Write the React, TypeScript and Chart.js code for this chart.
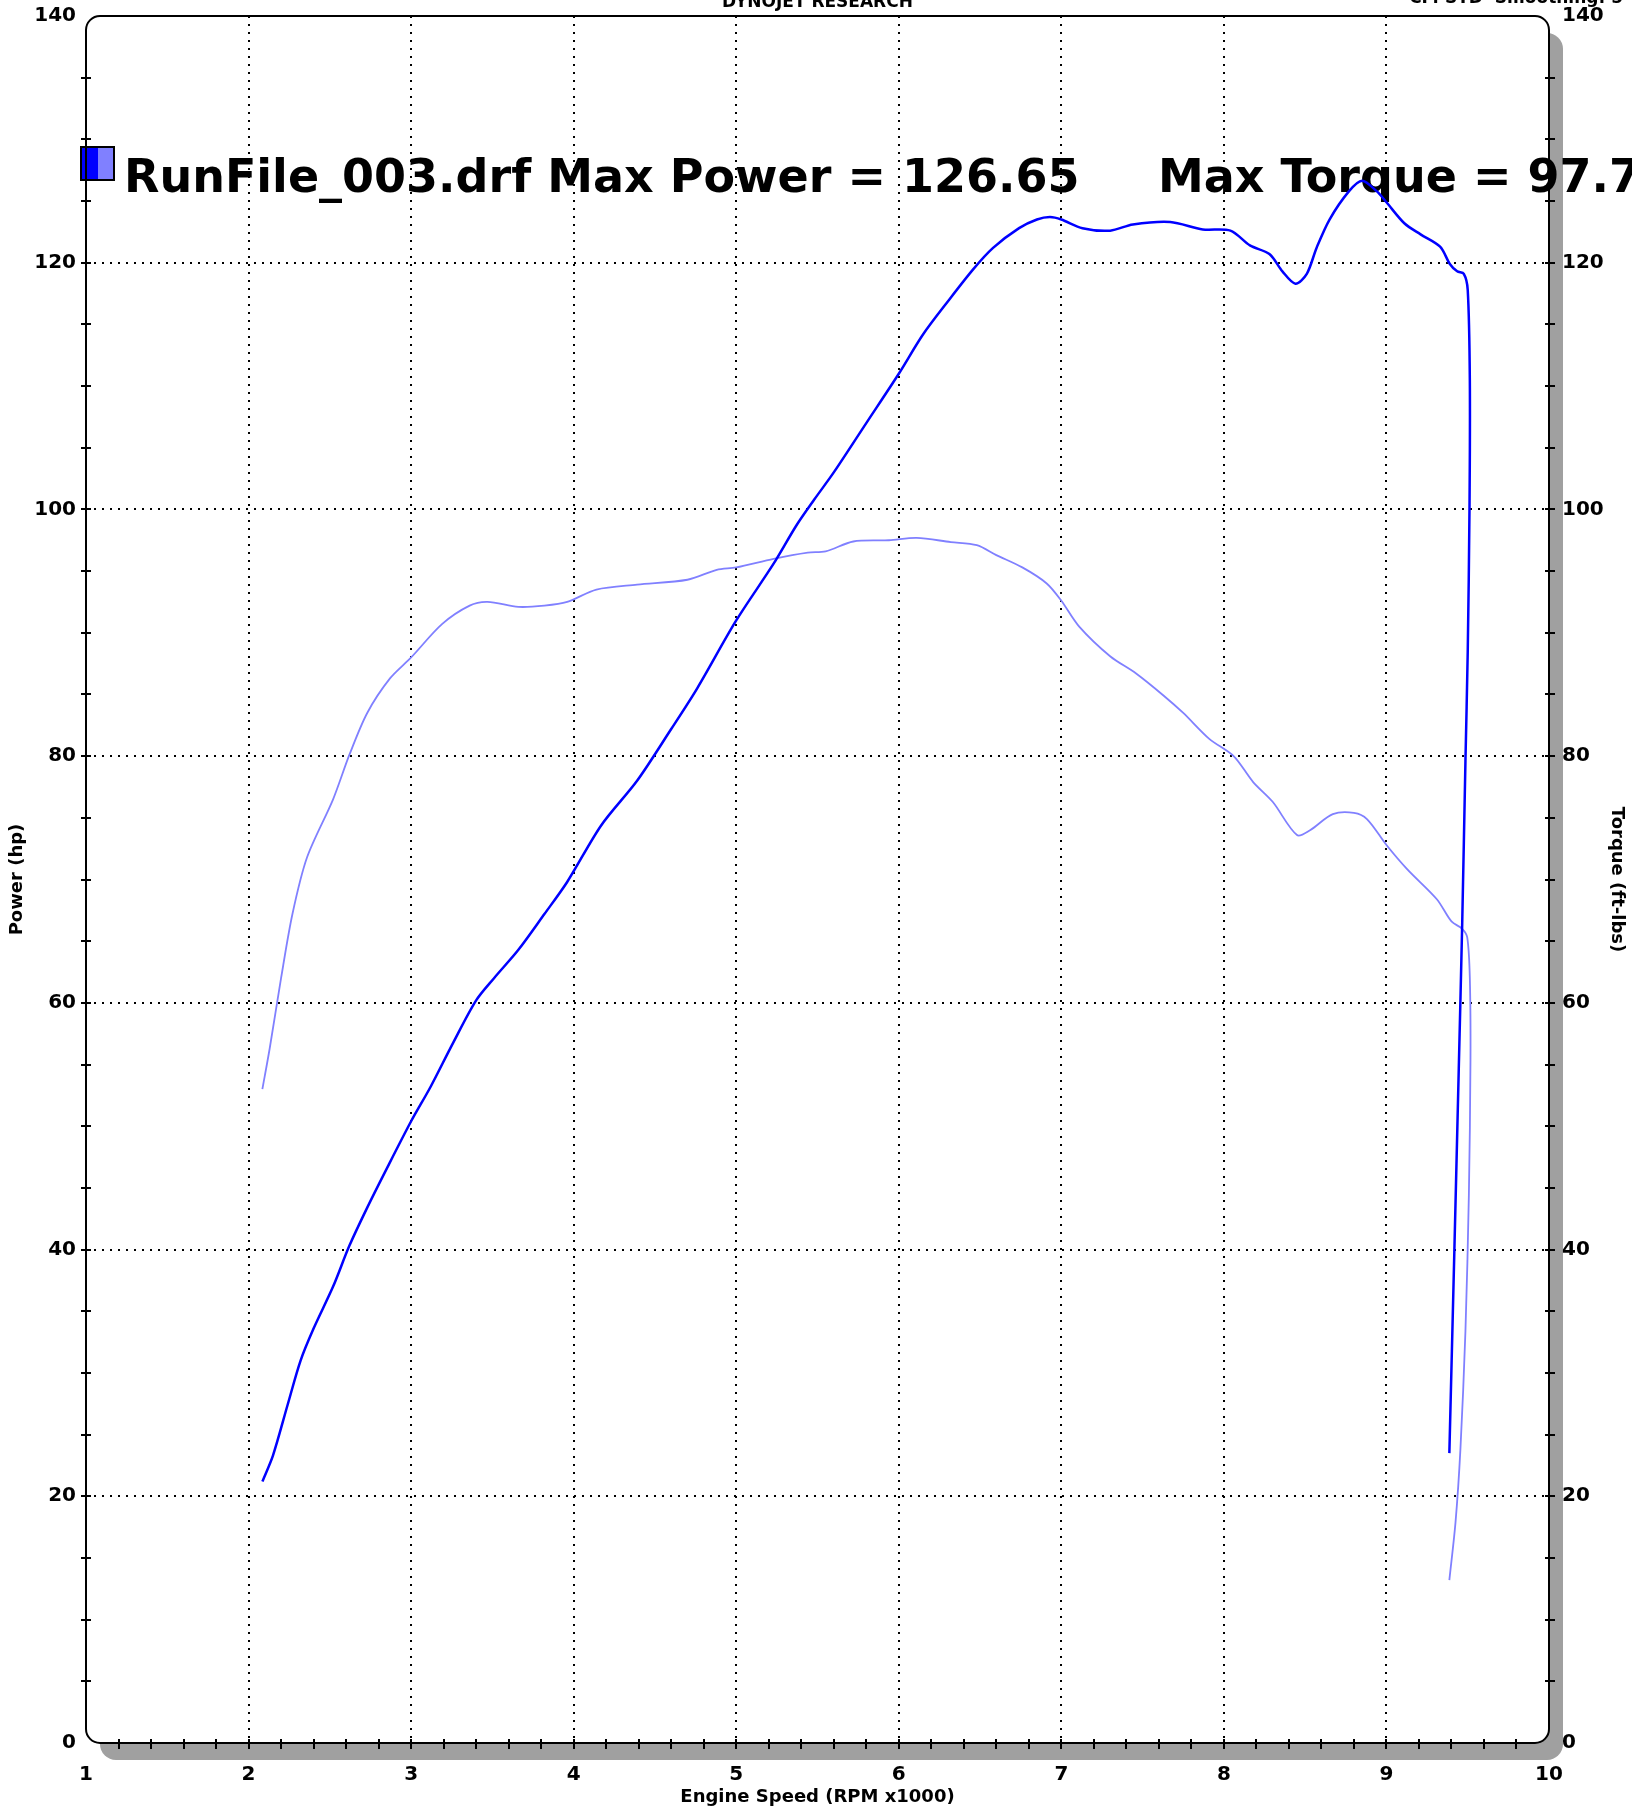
import React, { useEffect, useRef } from "react";
import { Chart, registerables } from "chart.js";

Chart.register(...registerables);

// ---------- data ----------
const powerRpm = [
  2.085, 2.15, 2.24, 2.32, 2.4, 2.52, 2.62, 2.73, 2.84, 3.0, 3.12, 3.26, 3.4, 3.51, 3.66, 3.82,
  3.96, 4.17, 4.39, 4.6, 4.76, 5.0, 5.23, 5.37, 5.48, 5.6, 5.8, 6.0, 6.15, 6.31, 6.46, 6.58,
  6.74, 6.85, 6.93, 7.0, 7.13, 7.3, 7.44, 7.67, 7.87, 8.04, 8.16, 8.28, 8.36, 8.44, 8.51, 8.57,
  8.65, 8.77, 8.85, 8.94, 9.0, 9.11, 9.21, 9.33, 9.39, 9.435, 9.476, 9.5, 9.513, 9.511, 9.5,
  9.486, 9.466, 9.445, 9.418, 9.387,
];
const powerHp = [
  21.2, 23.3, 27.4, 31.0, 33.6, 37.0, 40.3, 43.4, 46.3, 50.4, 53.2, 56.8, 60.2, 62.0, 64.3, 67.2,
  69.8, 74.4, 78.0, 82.2, 85.5, 91.0, 95.6, 98.7, 100.8, 103.0, 107.0, 111.0, 114.2, 117.0, 119.5, 121.2,
  122.8, 123.5, 123.7, 123.5, 122.8, 122.6, 123.1, 123.3, 122.7, 122.6, 121.4, 120.7, 119.3, 118.3, 119.1, 121.2,
  123.5, 125.8, 126.65, 125.8, 124.9, 123.2, 122.3, 121.3, 119.9, 119.3, 119.1, 117.8, 110.5, 100.2, 88.4,
  79.6, 66.4, 54.7, 40.0, 23.5,
];
const torqueRpm = [
  2.085, 2.13, 2.2, 2.27, 2.36, 2.52, 2.62, 2.73, 2.87, 3.0, 3.19, 3.36, 3.47, 3.66, 3.82, 3.96,
  4.14, 4.39, 4.7, 4.88, 5.0, 5.23, 5.44, 5.55, 5.72, 5.94, 6.11, 6.32, 6.48, 6.6, 6.76, 6.91,
  7.0, 7.11, 7.3, 7.46, 7.63, 7.75, 7.91, 8.06, 8.18, 8.3, 8.45, 8.53, 8.67, 8.8, 8.88, 9.0,
  9.13, 9.31, 9.4, 9.466, 9.497, 9.513, 9.517, 9.507, 9.486, 9.455, 9.425, 9.387,
];
const torqueFtLbs = [
  53.0, 56.3, 62.0, 67.2, 71.8, 76.5, 80.1, 83.5, 86.3, 88.0, 90.7, 92.2, 92.5, 92.1, 92.2, 92.5,
  93.5, 93.9, 94.3, 95.1, 95.3, 96.0, 96.5, 96.6, 97.4, 97.5, 97.7, 97.35, 97.1, 96.3, 95.3, 94.0,
  92.6, 90.5, 88.1, 86.7, 84.9, 83.5, 81.4, 80.0, 77.9, 76.3, 73.6, 74.0, 75.3, 75.4, 74.9, 72.8,
  70.8, 68.4, 66.6, 66.0, 65.3, 62.0, 55.4, 44.4, 33.4, 23.8, 17.9, 13.2,
];

const xMin = 1;
const xMax = 10;
const xMajorStep = 1;
const xMinorStep = 0.2;
const yMin = 0;
const yMax = 140;
const yMajorStep = 20;
const yMinorStep = 5;

const headerTitle = "DYNOJET RESEARCH";
const headerRight = "CF: STD  Smoothing: 5";
const runFile = "RunFile_003.drf";
const maxPowerText = "126.65";
const maxTorqueText = "97.7";
const xTitle = "Engine Speed (RPM x1000)";
const yLeftTitle = "Power (hp)";
const yRightTitle = "Torque (ft-lbs)";

const POWER_COLOR = "#0000ff";
const TORQUE_COLOR = "#8080ff";
const FONT = '"DejaVu Sans", Verdana, sans-serif';

const dynoPlugin = {
  id: "dynoDecor",
  beforeDraw(chart: any) {
    const { ctx, chartArea: a } = chart;
    const w = a.right - a.left;
    const h = a.bottom - a.top;
    ctx.save();
    ctx.fillStyle = "#ffffff";
    ctx.fillRect(0, 0, chart.width, chart.height);
    // drop shadow
    ctx.fillStyle = "#a0a0a0";
    ctx.beginPath();
    ctx.roundRect(a.left + 14, a.top + 17, w, h, 16);
    ctx.fill();
    // plot background
    ctx.fillStyle = "#ffffff";
    ctx.beginPath();
    ctx.roundRect(a.left, a.top, w, h, 14);
    ctx.fill();
    ctx.restore();
  },
  beforeDatasetsDraw(chart: any) {
    const { ctx } = chart;
    ctx.save();
    // legend swatch
    ctx.fillStyle = POWER_COLOR;
    ctx.fillRect(81, 147, 17, 33);
    ctx.fillStyle = TORQUE_COLOR;
    ctx.fillRect(98, 147, 16, 33);
    ctx.strokeStyle = "#000";
    ctx.lineWidth = 2;
    ctx.strokeRect(81, 147, 33, 33);
    ctx.fillStyle = "#000";
    ctx.font = `bold 46px ${FONT}`;
    ctx.textAlign = "left";
    ctx.textBaseline = "alphabetic";
    ctx.fillText(`${runFile} Max Power = ${maxPowerText}`, 124, 192);
    ctx.fillText(`Max Torque = ${maxTorqueText}`, 1158, 192);
    ctx.restore();
  },
  afterDraw(chart: any) {
    const { ctx, chartArea: a } = chart;
    const xs = chart.scales.x;
    const yl = chart.scales.y;
    const yr = chart.scales.y2;
    ctx.save();
    // frame
    ctx.strokeStyle = "#000";
    ctx.lineWidth = 2;
    ctx.beginPath();
    ctx.roundRect(a.left, a.top, a.right - a.left, a.bottom - a.top, 14);
    ctx.stroke();
    // minor / major tick marks
    ctx.lineWidth = 2;
    ctx.beginPath();
    const nx = Math.round((xMax - xMin) / xMinorStep);
    for (let i = 1; i < nx; i++) {
      const px = Math.round(xs.getPixelForValue(xMin + i * xMinorStep));
      ctx.moveTo(px, a.bottom - 4);
      ctx.lineTo(px, a.bottom + 6);
    }
    const ny = Math.round((yMax - yMin) / yMinorStep);
    for (let i = 1; i < ny; i++) {
      const v = yMin + i * yMinorStep;
      const pl = Math.round(yl.getPixelForValue(v));
      ctx.moveTo(a.left - 5, pl);
      ctx.lineTo(a.left + 5, pl);
      const pr = Math.round(yr.getPixelForValue(v));
      ctx.moveTo(a.right - 4, pr);
      ctx.lineTo(a.right + 6, pr);
    }
    ctx.stroke();

    // texts
    ctx.fillStyle = "#000";
    ctx.font = `bold 17px ${FONT}`;
    ctx.textAlign = "center";
    ctx.textBaseline = "alphabetic";
    ctx.fillText(headerTitle, (a.left + a.right) / 2, 7);
    ctx.textAlign = "right";
    ctx.fillText(headerRight, 1623, 3);

    ctx.font = `bold 18px ${FONT}`;
    ctx.textAlign = "center";
    ctx.textBaseline = "middle";
    ctx.fillText(xTitle, (a.left + a.right) / 2, 1797);

    ctx.save();
    ctx.translate(17, (a.top + a.bottom) / 2);
    ctx.rotate(-Math.PI / 2);
    ctx.fillText(yLeftTitle, 0, 0);
    ctx.restore();

    ctx.save();
    ctx.translate(1617, (a.top + a.bottom) / 2);
    ctx.rotate(Math.PI / 2);
    ctx.fillText(yRightTitle, 0, 0);
    ctx.restore();

    ctx.restore();
  },
};

export default function App() {
  const canvasRef = useRef<HTMLCanvasElement | null>(null);

  useEffect(() => {
    document.body.style.margin = "0";
    const canvas = canvasRef.current;
    if (!canvas) return;
    const powerData = powerRpm.map((r, i) => ({ x: r, y: powerHp[i] }));
    const torqueData = torqueRpm.map((r, i) => ({ x: r, y: torqueFtLbs[i] }));
    const tickFont = { family: FONT, size: 20, weight: "bold" as const };

    const chart = new Chart(canvas, {
      type: "scatter",
      data: {
        datasets: [
          {
            label: "Power (hp)",
            data: powerData,
            showLine: true,
            borderColor: POWER_COLOR,
            backgroundColor: POWER_COLOR,
            borderWidth: 2.5,
            pointRadius: 0,
            tension: 0.3,
            yAxisID: "y",
          },
          {
            label: "Torque (ft-lbs)",
            data: torqueData,
            showLine: true,
            borderColor: TORQUE_COLOR,
            backgroundColor: TORQUE_COLOR,
            borderWidth: 1.8,
            pointRadius: 0,
            tension: 0.3,
            yAxisID: "y2",
          },
        ],
      },
      options: {
        animation: false,
        responsive: false,
        devicePixelRatio: 1,
        layout: { padding: { top: 16, left: 0, right: 0, bottom: 0 } },
        plugins: {
          legend: { display: false },
          title: { display: false },
          tooltip: { enabled: false },
        },
        scales: {
          x: {
            type: "linear",
            position: "bottom",
            min: xMin,
            max: xMax,
            afterFit: (s: any) => {
              s.height = 66;
              s.paddingLeft = 0;
              s.paddingRight = 0;
            },
            ticks: {
              stepSize: xMajorStep,
              autoSkip: false,
              maxRotation: 0,
              padding: 20,
              color: "#000",
              font: tickFont,
            },
            grid: {
              drawTicks: false,
              lineWidth: 2,
              color: (c: any) =>
                c.tick && c.tick.value > xMin && c.tick.value < xMax ? "#000" : "rgba(0,0,0,0)",
            },
            border: { display: false, dash: [2, 6] },
          },
          y: {
            type: "linear",
            position: "left",
            min: yMin,
            max: yMax,
            afterFit: (s: any) => {
              s.width = 86;
              s.paddingTop = 0;
              s.paddingBottom = 0;
            },
            ticks: {
              stepSize: yMajorStep,
              padding: 10,
              color: "#000",
              font: tickFont,
            },
            grid: {
              drawTicks: false,
              lineWidth: 2,
              color: (c: any) =>
                c.tick && c.tick.value > yMin && c.tick.value < yMax ? "#000" : "rgba(0,0,0,0)",
            },
            border: { display: false, dash: [2, 6] },
          },
          y2: {
            type: "linear",
            position: "right",
            min: yMin,
            max: yMax,
            afterFit: (s: any) => {
              s.width = 83;
              s.paddingTop = 0;
              s.paddingBottom = 0;
            },
            ticks: {
              stepSize: yMajorStep,
              padding: 13,
              color: "#000",
              font: tickFont,
            },
            grid: { display: false, drawTicks: false },
            border: { display: false },
          },
        },
      },
      plugins: [dynoPlugin],
    });

    return () => {
      chart.destroy();
    };
  }, []);

  return (
    <div style={{ position: "absolute", left: 0, top: 0, width: 1632, height: 1809 }}>
      <canvas ref={canvasRef} width={1632} height={1809} style={{ width: 1632, height: 1809, display: "block" }} />
    </div>
  );
}
